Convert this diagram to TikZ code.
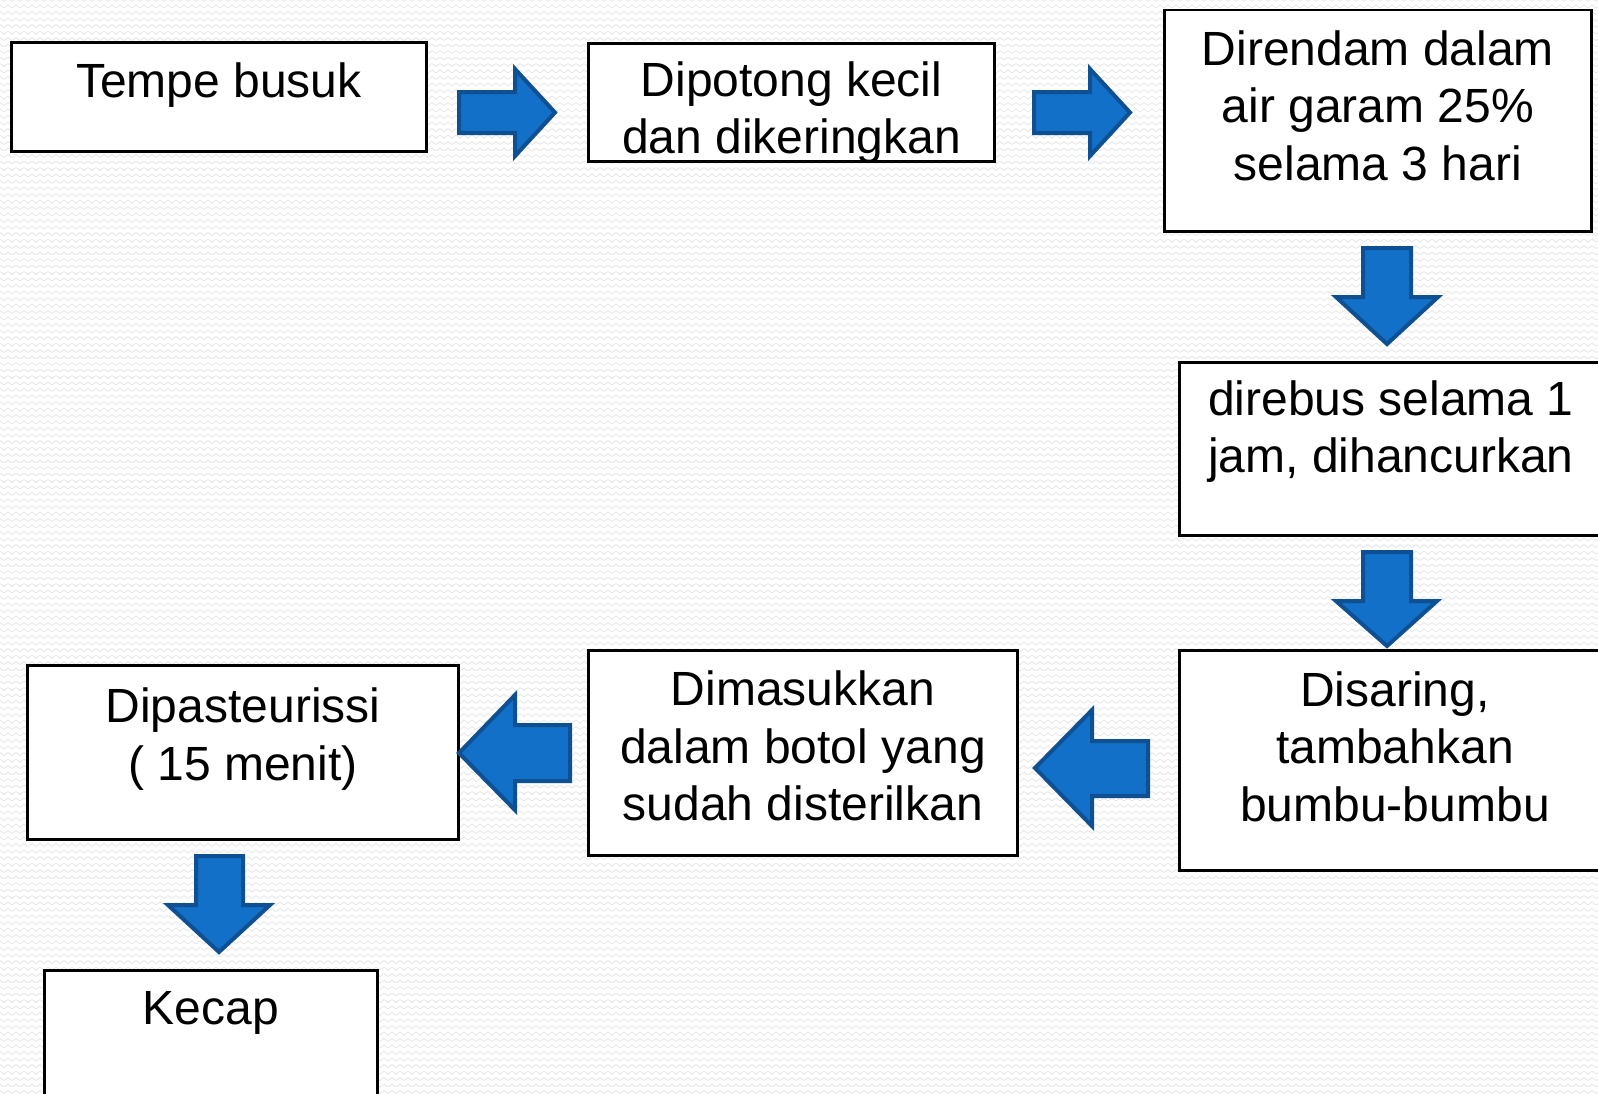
\documentclass[tikz,border=0pt]{standalone}
\usepackage{fontspec}
\setmainfont{Liberation Sans}
\usetikzlibrary{decorations.pathmorphing}
\definecolor{arrowfill}{RGB}{18,112,200}
\definecolor{arrowline}{RGB}{14,80,146}
\definecolor{bgline}{RGB}{230,230,230}
\begin{document}
\begin{tikzpicture}[x=1pt,y=-1pt,
  boxstyle/.style={draw=black, line width=2.6pt, fill=white, inner sep=0pt},
  txt/.style={font=\fontsize{48}{57.5}\selectfont, align=center, inner sep=0pt, anchor=north},
  blockarrow/.style={fill=arrowfill, draw=arrowline, line width=4pt, line join=miter}]
\useasboundingbox (0,0) rectangle (1598,1093);
\clip (0,0) rectangle (1598,1093);
\fill[white] (0,0) rectangle (1598,1093);
\foreach \r in {0,...,168} {
  \draw[bgline, line width=0.8pt, decorate, decoration={zigzag, segment length=8pt, amplitude=1.5pt}] (-10,\r*6.5) -- (1610,\r*6.5);
}
% boxes
\node[boxstyle, minimum width=415.4pt, minimum height=109.4pt] (b1) at (219,97) {};
\node[boxstyle, minimum width=406.4pt, minimum height=118.4pt] (b2) at (791.5,102.5) {};
\node[boxstyle, minimum width=427.4pt, minimum height=221.4pt] (b3) at (1378,120.5) {};
\node[boxstyle, minimum width=423.4pt, minimum height=173.4pt] (b4) at (1391,449) {};
\node[boxstyle, minimum width=431.4pt, minimum height=220.4pt] (b5) at (1395,760.5) {};
\node[boxstyle, minimum width=429.4pt, minimum height=205.4pt] (b6) at (803,753) {};
\node[boxstyle, minimum width=431.4pt, minimum height=174.4pt] (b7) at (243,752.5) {};
\node[boxstyle, minimum width=333.4pt, minimum height=158.4pt] (b8) at (211,1049.5) {};
% texts
\node[txt] (t1) at (219,62.5) {Tempe busuk};
\node[txt] (t2) at (791.5,61.5) {Dipotong kecil\\dan dikeringkan};
\node[txt] (t3) at (1378,30.5) {Direndam dalam\\air garam 25\%\\selama 3 hari};
\node[txt] (t4) at (1391,380.5) {direbus selama 1\\jam, dihancurkan};
\node[txt] (t5) at (1395,671.5) {Disaring,\\tambahkan\\bumbu-bumbu};
\node[txt] (t6) at (803,671) {Dimasukkan\\dalam botol yang\\sudah disterilkan};
\node[txt] (t7) at (243,688) {Dipasteurissi\\( 15 menit)};
\node[txt] (t8) at (211,991) {Kecap};
% block arrows
\draw[blockarrow] (459,92) -- (515,92) -- (515,69) -- (555,112.5) -- (515,156) -- (515,133) -- (459,133) -- cycle;
\draw[blockarrow] (1034,92) -- (1090,92) -- (1090,69) -- (1130,112.5) -- (1090,156) -- (1090,133) -- (1034,133) -- cycle;
\draw[blockarrow] (1363,248) -- (1411,248) -- (1411,297) -- (1438,297) -- (1387,344) -- (1336,297) -- (1363,297) -- cycle;
\draw[blockarrow] (1363,552) -- (1411,552) -- (1411,601) -- (1437,601) -- (1387,646) -- (1336,601) -- (1363,601) -- cycle;
\draw[blockarrow] (1148,741) -- (1148,796) -- (1092,796) -- (1092,826) -- (1035,768) -- (1092,710) -- (1092,741) -- cycle;
\draw[blockarrow] (570,725) -- (570,781) -- (515,781) -- (515,810) -- (459,753) -- (515,695) -- (515,725) -- cycle;
\draw[blockarrow] (196,856) -- (243,856) -- (243,905) -- (270,905) -- (219,952) -- (168,905) -- (196,905) -- cycle;
\end{tikzpicture}
\end{document}
